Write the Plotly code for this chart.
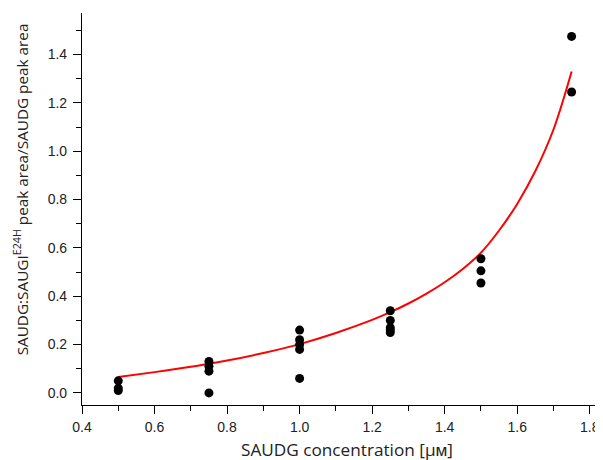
import plotly.graph_objects as go

# measured points
x_pts = [0.5, 0.5, 0.5,
         0.75, 0.75, 0.75, 0.75,
         1.0, 1.0, 1.0, 1.0, 1.0,
         1.25, 1.25, 1.25, 1.25, 1.25,
         1.5, 1.5, 1.5,
         1.75, 1.75]
y_pts = [0.05, 0.02, 0.01,
         0.13, 0.11, 0.09, 0.0,
         0.26, 0.22, 0.20, 0.18, 0.06,
         0.34, 0.30, 0.27, 0.26, 0.25,
         0.555, 0.505, 0.455,
         1.475, 1.245]

# fitted curve
fit_x = [0.5, 0.6, 0.7, 0.75, 0.8, 0.9, 1.0, 1.1, 1.2, 1.25, 1.3, 1.35,
         1.4, 1.45, 1.5, 1.55, 1.6, 1.65, 1.7, 1.75]
fit_y = [0.066, 0.086, 0.108, 0.121, 0.134, 0.165, 0.202, 0.248, 0.302, 0.334,
         0.370, 0.411, 0.458, 0.513, 0.580, 0.672, 0.782, 0.918, 1.090, 1.33]

x_title = "SAUDG concentration [μᴍ]"
y_title = "SAUDG:SAUGI<sup>E24H</sup> peak area/SAUDG peak area"

fig = go.Figure()
fig.add_trace(go.Scatter(x=fit_x, y=fit_y, mode="lines",
                         line=dict(color="#ff0000", width=2, shape="spline"),
                         showlegend=False, hoverinfo="skip"))
fig.add_trace(go.Scatter(x=x_pts, y=y_pts, mode="markers",
                         marker=dict(color="black", size=9),
                         showlegend=False))

axis_font = dict(family="Liberation Sans, Arial, sans-serif", size=14, color="#222")
xtitle_font = dict(family="Open Sans, sans-serif", size=17.2, color="#222")
ytitle_font = dict(family="Open Sans, sans-serif", size=15.3, color="#222")

W, H = 595, 452
ML, MR, MT, MB = 74, 3, 5, 55
pw, ph = W - ML - MR, H - MT - MB
off = 8  # page body offset

def px_to_paper_x(px):
    return (px - off - ML) / pw

def px_to_paper_y(py):
    return (H - MB + off - py) / ph

fig.update_layout(
    width=W, height=H,
    margin=dict(l=ML, r=MR, t=MT, b=MB),
    paper_bgcolor="white", plot_bgcolor="white",
    xaxis=dict(range=[0.4, 1.82], dtick=0.2, tick0=0.4, tickformat=".1f",
               showline=True, linecolor="black", linewidth=1.2,
               ticks="outside", ticklen=8, tickwidth=1.2, tickcolor="black",
               ticklabelstandoff=1,
               minor=dict(ticks="outside", ticklen=5, dtick=0.1, tickcolor="black", tickwidth=1.2),
               showgrid=False, zeroline=False, tickfont=axis_font),
    yaxis=dict(range=[-0.05, 1.572], dtick=0.2, tick0=0, tickformat=".1f",
               showline=True, linecolor="black", linewidth=1.2,
               ticks="outside", ticklen=8, tickwidth=1.2, tickcolor="black",
               ticklabelstandoff=3,
               minor=dict(ticks="outside", ticklen=5, dtick=0.1, tickcolor="black", tickwidth=1.2),
               showgrid=False, zeroline=False, tickfont=axis_font),
    annotations=[
        dict(text=x_title, xref="paper", yref="paper",
             x=px_to_paper_x(349), y=px_to_paper_y(449),
             xanchor="center", yanchor="middle", showarrow=False, font=xtitle_font),
        dict(text=y_title, xref="paper", yref="paper", textangle=-90,
             x=px_to_paper_x(20), y=px_to_paper_y(189),
             xanchor="center", yanchor="middle", showarrow=False, font=ytitle_font),
    ],
)

fig.write_html("out.html")
